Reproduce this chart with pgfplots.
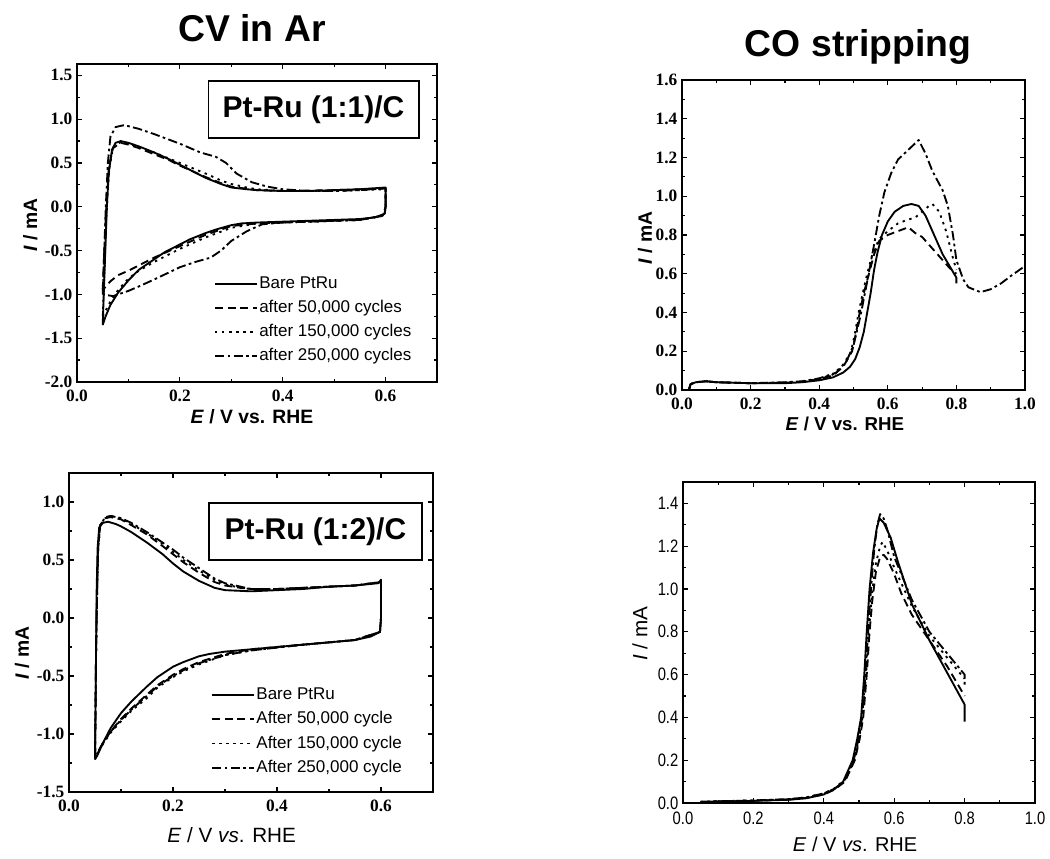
\documentclass[border=0pt]{standalone}
\usepackage{pgfplots}
\pgfplotsset{compat=1.18}
\usepackage{fontspec}
\setmainfont{Liberation Sans}
\newfontfamily\tickserif{Liberation Serif}
\newfontfamily\narrowsans[FakeStretch=0.82]{Liberation Sans}

\pgfplotsset{
  base/.style={
    scale only axis, anchor=south west,
    axis line style={line width=1.1pt},
    tick align=inside,
    major tick length=4pt, minor tick length=2.3pt,
    every tick/.style={black, line width=0.9pt},
    minor x tick num=1, minor y tick num=1,
    /pgf/number format/fixed, /pgf/number format/fixed zerofill,
    /pgf/number format/precision=1, /pgf/number format/assume math mode=true,
    tick label style={font=\tickserif\bfseries\fontsize{13}{13}\selectfont},
    xticklabel style={yshift=-2.5pt},
    clip=false,
    legend cell align=left,
    legend image code/.code={\draw[##1] (0pt,0pt) -- (31.5pt,0pt);},
  },
  s1/.style={black, line width=1.4pt, solid, no marks, line join=round},
  s2/.style={black, line width=1.4pt, dash pattern=on 6pt off 3.5pt, no marks, line join=round},
  s3/.style={black, line width=1.4pt, dash pattern=on 1.8pt off 3.5pt, no marks, line join=round},
  s4/.style={black, line width=1.4pt, dash pattern=on 7pt off 2.5pt on 2pt off 2.5pt, no marks, line join=round},
  leg/.style={draw=none, fill=none, inner sep=0pt, row sep=4.4pt,
    font=\fontsize{12.75}{14}\selectfont,
    nodes={inner sep=1pt, text height=9.3pt, text depth=2.4pt}},
}

\begin{document}
\begin{tikzpicture}
\path[use as bounding box] (0,0) rectangle (787.5pt,644.25pt);

\node[font=\bfseries\fontsize{28}{30}\selectfont] at (189pt,623.25pt) {CV in Ar};
\node[font=\bfseries\fontsize{28}{30}\selectfont] at (643.5pt,609pt) {CO stripping};

% ---------- Panel 1 ----------
\begin{axis}[base, at={(57.75pt,357.75pt)}, width=270pt, height=238.5pt,
  xmin=0, xmax=0.7, ymin=-2.0, ymax=1.63,
  xtick={0,0.2,0.4,0.6}, ytick={-2,-1.5,-1,-0.5,0,0.5,1,1.5},
  xlabel={\textit{E} / V vs. RHE}, ylabel={\textit{I} / mA},
  xlabel style={font=\bfseries\fontsize{14.5}{16}\selectfont, at={(axis description cs:0.486,-0.11)}, anchor=center},
  ylabel style={font=\bfseries\fontsize{14.5}{16}\selectfont, at={(axis description cs:-0.13,0.494)}, anchor=center},
  legend style={leg, at={(axis description cs:0.38,0.338)}, anchor=north west},
]
\addplot[s1] coordinates {(0.05,-1.35) (0.052,-1.0) (0.055,-0.5) (0.058,0.0) (0.062,0.4) (0.068,0.65) (0.075,0.73) (0.085,0.75) (0.1,0.73) (0.12,0.69) (0.15,0.62) (0.18,0.54) (0.2,0.48) (0.22,0.42) (0.25,0.33) (0.28,0.26) (0.3,0.22) (0.33,0.2) (0.35,0.19) (0.4,0.18) (0.45,0.18) (0.5,0.19) (0.55,0.2) (0.6,0.22) (0.6,0.0) (0.598,-0.08) (0.58,-0.12) (0.55,-0.14) (0.5,-0.15) (0.45,-0.16) (0.4,-0.17) (0.35,-0.18) (0.32,-0.19) (0.3,-0.21) (0.27,-0.26) (0.25,-0.3) (0.22,-0.37) (0.2,-0.43) (0.17,-0.52) (0.15,-0.6) (0.12,-0.72) (0.1,-0.84) (0.08,-0.98) (0.065,-1.12) (0.055,-1.26) (0.05,-1.35)};
\addlegendentry{Bare PtRu}
\addplot[s2] coordinates {(0.05,-0.95) (0.053,-0.5) (0.057,0.0) (0.062,0.45) (0.07,0.67) (0.085,0.73) (0.1,0.71) (0.12,0.67) (0.15,0.6) (0.18,0.53) (0.2,0.47) (0.25,0.34) (0.28,0.27) (0.3,0.23) (0.35,0.19) (0.4,0.18) (0.5,0.19) (0.6,0.21) (0.6,0.0) (0.598,-0.1) (0.55,-0.15) (0.45,-0.17) (0.35,-0.19) (0.3,-0.22) (0.25,-0.32) (0.2,-0.45) (0.15,-0.58) (0.12,-0.67) (0.1,-0.73) (0.08,-0.78) (0.065,-0.85) (0.05,-0.95)};
\addlegendentry{after 50,000 cycles}
\addplot[s3] coordinates {(0.05,-1.25) (0.053,-0.8) (0.056,-0.3) (0.059,0.1) (0.063,0.45) (0.07,0.68) (0.085,0.74) (0.1,0.72) (0.12,0.68) (0.15,0.62) (0.2,0.5) (0.25,0.38) (0.28,0.3) (0.3,0.26) (0.33,0.22) (0.35,0.2) (0.4,0.18) (0.5,0.18) (0.6,0.2) (0.6,0.0) (0.598,-0.1) (0.55,-0.15) (0.45,-0.17) (0.35,-0.19) (0.3,-0.24) (0.25,-0.35) (0.2,-0.48) (0.15,-0.63) (0.12,-0.73) (0.1,-0.82) (0.08,-0.95) (0.065,-1.08) (0.05,-1.25)};
\addlegendentry{after 150,000 cycles}
\addplot[s4] coordinates {(0.05,-1.0) (0.053,-0.5) (0.056,0.0) (0.06,0.5) (0.065,0.8) (0.075,0.91) (0.09,0.93) (0.1,0.92) (0.12,0.89) (0.15,0.83) (0.2,0.72) (0.24,0.62) (0.27,0.57) (0.29,0.5) (0.31,0.38) (0.34,0.28) (0.37,0.23) (0.4,0.2) (0.45,0.18) (0.5,0.18) (0.55,0.19) (0.6,0.21) (0.6,0.0) (0.595,-0.1) (0.55,-0.15) (0.45,-0.17) (0.4,-0.18) (0.36,-0.2) (0.33,-0.28) (0.3,-0.39) (0.28,-0.5) (0.26,-0.58) (0.23,-0.63) (0.2,-0.69) (0.15,-0.83) (0.12,-0.91) (0.1,-0.96) (0.07,-1.02) (0.05,-1.0)};
\addlegendentry{after 250,000 cycles}
\node[draw, line width=1pt, minimum width=158pt, minimum height=42.75pt, inner sep=0pt,
  font=\bfseries\fontsize{22.5}{24}\selectfont] at (rel axis cs:0.657,0.857) {Pt-Ru (1:1)/C};
\end{axis}

% ---------- Panel 2 ----------
\begin{axis}[base, at={(511.5pt,351.75pt)}, width=257.25pt, height=232.5pt,
  xmin=0, xmax=1.0, ymin=0, ymax=1.6,
  xtick={0,0.2,0.4,0.6,0.8,1.0}, ytick={0,0.2,0.4,0.6,0.8,1.0,1.2,1.4,1.6},
  xlabel={\textit{E} / V vs. RHE}, ylabel={\textit{I} / mA},
  xlabel style={font=\bfseries\fontsize{14}{16}\selectfont, at={(axis description cs:0.475,-0.11)}, anchor=center},
  ylabel style={font=\bfseries\fontsize{14.5}{16}\selectfont, at={(axis description cs:-0.108,0.49)}, anchor=center},
]
\addplot[s1] coordinates {(0.02,0.0) (0.025,0.03) (0.04,0.04) (0.07,0.045) (0.1,0.04) (0.2,0.035) (0.3,0.035) (0.35,0.04) (0.4,0.05) (0.44,0.065) (0.47,0.09) (0.49,0.12) (0.505,0.16) (0.518,0.22) (0.53,0.3) (0.54,0.4) (0.55,0.5) (0.56,0.62) (0.57,0.71) (0.583,0.8) (0.6,0.87) (0.62,0.92) (0.645,0.95) (0.669,0.96) (0.69,0.95) (0.71,0.9) (0.735,0.8) (0.76,0.7) (0.78,0.64) (0.79,0.61) (0.8,0.58) (0.8,0.55)};
\addplot[s2] coordinates {(0.02,0.0) (0.025,0.03) (0.04,0.04) (0.07,0.045) (0.1,0.04) (0.2,0.035) (0.3,0.038) (0.35,0.042) (0.4,0.055) (0.44,0.075) (0.47,0.12) (0.496,0.2) (0.508,0.3) (0.518,0.4) (0.53,0.5) (0.545,0.6) (0.56,0.7) (0.575,0.77) (0.6,0.8) (0.63,0.82) (0.66,0.84) (0.68,0.81) (0.7,0.79) (0.72,0.75) (0.75,0.69) (0.78,0.63) (0.8,0.6)};
\addplot[s3] coordinates {(0.02,0.0) (0.025,0.03) (0.04,0.04) (0.07,0.045) (0.1,0.04) (0.2,0.035) (0.3,0.038) (0.35,0.042) (0.4,0.058) (0.44,0.08) (0.47,0.13) (0.493,0.2) (0.505,0.3) (0.515,0.4) (0.527,0.5) (0.54,0.6) (0.555,0.7) (0.575,0.78) (0.6,0.82) (0.63,0.86) (0.66,0.88) (0.68,0.89) (0.7,0.92) (0.72,0.95) (0.73,0.96) (0.75,0.92) (0.77,0.82) (0.79,0.68) (0.8,0.62)};
\addplot[s4] coordinates {(0.02,0.0) (0.025,0.03) (0.04,0.04) (0.07,0.045) (0.1,0.04) (0.2,0.035) (0.3,0.04) (0.35,0.045) (0.4,0.06) (0.45,0.09) (0.48,0.15) (0.5,0.23) (0.52,0.38) (0.54,0.56) (0.56,0.75) (0.575,0.9) (0.59,1.02) (0.61,1.12) (0.63,1.19) (0.66,1.24) (0.69,1.29) (0.71,1.22) (0.73,1.13) (0.76,1.03) (0.775,0.95) (0.79,0.8) (0.8,0.67) (0.82,0.57) (0.835,0.53) (0.87,0.505) (0.9,0.52) (0.93,0.55) (0.96,0.59) (1.0,0.64)};
\end{axis}

% ---------- Panel 3 ----------
\begin{axis}[base, at={(51.75pt,50.25pt)}, width=273pt, height=239.25pt,
  xmin=0, xmax=0.7, ymin=-1.5, ymax=1.25,
  xtick={0,0.2,0.4,0.6}, ytick={-1.5,-1,-0.5,0,0.5,1},
  xlabel={\textit{E} / V \textit{vs}. RHE}, ylabel={\textit{I} / mA},
  xlabel style={font=\fontsize{15.5}{17}\selectfont, at={(axis description cs:0.447,-0.135)}, anchor=center},
  ylabel style={font=\bfseries\fontsize{14.5}{16}\selectfont, at={(axis description cs:-0.129,0.436)}, anchor=center},
  legend style={leg, at={(axis description cs:0.39,0.333)}, anchor=north west},
]
\addplot[s1] coordinates {(0.05,-1.22) (0.051,-0.8) (0.052,-0.3) (0.053,0.2) (0.055,0.6) (0.058,0.78) (0.065,0.82) (0.075,0.83) (0.09,0.81) (0.1,0.79) (0.12,0.74) (0.15,0.65) (0.18,0.55) (0.2,0.47) (0.22,0.4) (0.25,0.32) (0.28,0.26) (0.3,0.24) (0.35,0.23) (0.4,0.24) (0.45,0.25) (0.5,0.27) (0.55,0.28) (0.595,0.3) (0.6,0.33) (0.6,0.0) (0.598,-0.12) (0.58,-0.16) (0.55,-0.19) (0.5,-0.21) (0.45,-0.23) (0.4,-0.25) (0.35,-0.27) (0.3,-0.29) (0.27,-0.31) (0.25,-0.33) (0.22,-0.38) (0.2,-0.42) (0.17,-0.51) (0.15,-0.59) (0.12,-0.72) (0.1,-0.82) (0.08,-0.95) (0.065,-1.08) (0.055,-1.18) (0.05,-1.22)};
\addlegendentry{Bare PtRu}
\addplot[s2] coordinates {(0.05,-1.2) (0.051,-0.8) (0.052,-0.3) (0.054,0.2) (0.056,0.6) (0.06,0.8) (0.07,0.86) (0.08,0.87) (0.1,0.85) (0.12,0.8) (0.15,0.72) (0.18,0.62) (0.2,0.55) (0.22,0.48) (0.25,0.39) (0.28,0.31) (0.3,0.28) (0.33,0.26) (0.35,0.25) (0.4,0.25) (0.5,0.27) (0.55,0.28) (0.6,0.31) (0.6,0.0) (0.598,-0.12) (0.55,-0.19) (0.45,-0.23) (0.35,-0.27) (0.3,-0.31) (0.25,-0.38) (0.22,-0.44) (0.2,-0.49) (0.17,-0.58) (0.15,-0.66) (0.12,-0.78) (0.1,-0.87) (0.08,-0.98) (0.065,-1.08) (0.05,-1.2)};
\addlegendentry{After 50,000 cycle}
\addplot[s3] coordinates {(0.05,-1.2) (0.051,-0.8) (0.052,-0.3) (0.054,0.2) (0.056,0.6) (0.06,0.8) (0.07,0.86) (0.08,0.88) (0.1,0.86) (0.12,0.81) (0.15,0.73) (0.18,0.64) (0.2,0.57) (0.22,0.5) (0.25,0.41) (0.28,0.33) (0.3,0.29) (0.33,0.26) (0.35,0.25) (0.4,0.25) (0.5,0.27) (0.55,0.28) (0.6,0.31) (0.6,0.0) (0.598,-0.12) (0.55,-0.19) (0.45,-0.23) (0.35,-0.28) (0.3,-0.32) (0.25,-0.4) (0.22,-0.46) (0.2,-0.51) (0.17,-0.6) (0.15,-0.69) (0.12,-0.8) (0.1,-0.89) (0.08,-0.99) (0.065,-1.09) (0.05,-1.2)};
\addlegendentry{After 150,000 cycle}
\addplot[s4] coordinates {(0.05,-1.2) (0.051,-0.8) (0.052,-0.3) (0.054,0.2) (0.056,0.6) (0.06,0.8) (0.07,0.87) (0.08,0.88) (0.1,0.86) (0.12,0.82) (0.15,0.74) (0.18,0.65) (0.2,0.59) (0.22,0.52) (0.25,0.43) (0.28,0.34) (0.3,0.3) (0.33,0.27) (0.35,0.25) (0.4,0.25) (0.5,0.27) (0.55,0.28) (0.6,0.31) (0.6,0.0) (0.598,-0.12) (0.55,-0.19) (0.45,-0.23) (0.35,-0.28) (0.3,-0.32) (0.25,-0.39) (0.22,-0.45) (0.2,-0.5) (0.17,-0.59) (0.15,-0.67) (0.12,-0.79) (0.1,-0.88) (0.08,-0.98) (0.065,-1.08) (0.05,-1.2)};
\addlegendentry{After 250,000 cycle}
\node[draw, line width=1pt, minimum width=159.75pt, minimum height=42.75pt, inner sep=0pt,
  font=\bfseries\fontsize{22.5}{24}\selectfont] at (rel axis cs:0.677,0.817) {Pt-Ru (1:2)/C};
\end{axis}

% ---------- Panel 4 ----------
\begin{axis}[base, at={(512.25pt,42pt)}, width=264pt, height=240.75pt,
  xmin=0, xmax=1.0, ymin=0, ymax=1.5,
  xtick={0,0.2,0.4,0.6,0.8,1.0}, ytick={0,0.2,0.4,0.6,0.8,1.0,1.2,1.4},
  tick label style={font=\narrowsans\fontsize{13.5}{13.5}\selectfont},
  xticklabel style={yshift=-1pt},
  xlabel={\textit{E} / V \textit{vs}. RHE}, ylabel={\textit{I} / mA},
  xlabel style={font=\fontsize{15}{17}\selectfont, at={(axis description cs:0.489,-0.128)}, anchor=center},
  ylabel style={font=\fontsize{15.5}{17}\selectfont, at={(axis description cs:-0.122,0.527)}, anchor=center},
]
\addplot[s1] coordinates {(0.05,0.005) (0.1,0.007) (0.2,0.01) (0.3,0.015) (0.35,0.022) (0.4,0.04) (0.43,0.065) (0.455,0.1) (0.482,0.2) (0.495,0.3) (0.506,0.4) (0.515,0.6) (0.522,0.8) (0.53,1.0) (0.54,1.17) (0.55,1.28) (0.558,1.33) (0.57,1.31) (0.59,1.24) (0.61,1.13) (0.65,0.93) (0.7,0.76) (0.75,0.61) (0.8,0.46) (0.8,0.38)};
\addplot[s2] coordinates {(0.05,0.005) (0.1,0.007) (0.2,0.01) (0.3,0.016) (0.35,0.024) (0.4,0.04) (0.43,0.062) (0.46,0.1) (0.488,0.2) (0.502,0.3) (0.512,0.4) (0.522,0.6) (0.53,0.8) (0.538,0.95) (0.548,1.08) (0.56,1.15) (0.57,1.16) (0.58,1.14) (0.6,1.07) (0.62,0.98) (0.65,0.88) (0.7,0.76) (0.75,0.64) (0.8,0.5)};
\addplot[s3] coordinates {(0.05,0.005) (0.1,0.008) (0.2,0.012) (0.3,0.018) (0.35,0.026) (0.4,0.045) (0.43,0.068) (0.46,0.11) (0.487,0.2) (0.5,0.3) (0.51,0.4) (0.52,0.6) (0.528,0.8) (0.537,0.98) (0.548,1.12) (0.56,1.2) (0.567,1.22) (0.58,1.18) (0.6,1.1) (0.65,0.92) (0.7,0.78) (0.75,0.68) (0.8,0.58)};
\addplot[s4] coordinates {(0.05,0.005) (0.1,0.008) (0.2,0.012) (0.3,0.018) (0.35,0.026) (0.4,0.045) (0.43,0.066) (0.458,0.1) (0.485,0.2) (0.499,0.3) (0.509,0.4) (0.518,0.6) (0.526,0.8) (0.534,1.0) (0.543,1.18) (0.552,1.3) (0.56,1.35) (0.57,1.33) (0.58,1.28) (0.6,1.15) (0.65,0.95) (0.7,0.8) (0.75,0.7) (0.8,0.6) (0.8,0.55)};
\end{axis}
\end{tikzpicture}
\end{document}
